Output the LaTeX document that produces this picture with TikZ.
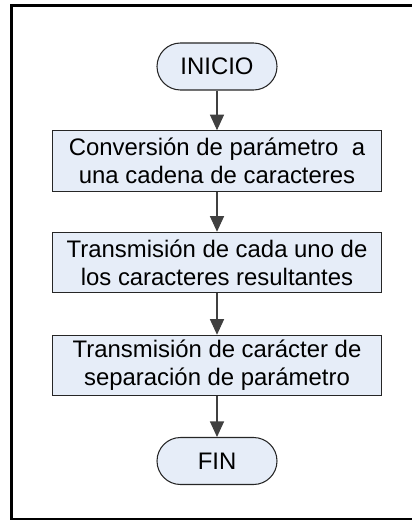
\documentclass[tikz,border=0pt]{standalone}
\usepackage{fontspec}
\setmainfont{Liberation Sans}
\usetikzlibrary{arrows.meta}
\definecolor{boxfill}{RGB}{230,237,248}
\tikzset{proc/.style={draw=black!85, fill=boxfill, line width=0.6pt, minimum width=6.58cm, minimum height=1.21cm, align=center, font=\fontsize{13.6}{15.8}\selectfont, inner sep=0pt},
         term/.style={draw=black!85, fill=boxfill, line width=0.6pt, rounded corners=0.47cm, minimum width=2.4cm, minimum height=0.94cm, font=\fontsize{13.6}{15.8}\selectfont, inner sep=0pt},
         flow/.style={draw=black!75, line width=0.6pt, -{Triangle[width=0.28cm,length=0.31cm]}}}

\begin{document}
\begin{tikzpicture}
            \useasboundingbox (0,0) rectangle (8.24,-10.4);
            \clip (0,0) rectangle (8.24,-10.4);
            \draw[line width=0.06cm] (9,-0.106) -- (0.23,-0.106) -- (0.23,-10.38) -- (9,-10.38);

            \node[term] (inicio) at (4.34,-1.33) {INICIO};
            \node[proc] (conv) at (4.34,-3.22) {Conversión de parámetro~ a\\una cadena de caracteres};
            \node[proc] (trans) at (4.34,-5.25) {Transmisión de cada uno de\\los caracteres resultantes};
            \node[proc] (sep) at (4.34,-7.31) {Transmisión de carácter de\\separación de parámetro};
            \node[term] (fin) at (4.34,-9.22) {FIN};

            \draw[flow] (inicio) -- (conv);
            \draw[flow] (conv) -- (trans);
            \draw[flow] (trans) -- (sep);
            \draw[flow] (sep) -- (fin);
        \end{tikzpicture}
\end{document}
